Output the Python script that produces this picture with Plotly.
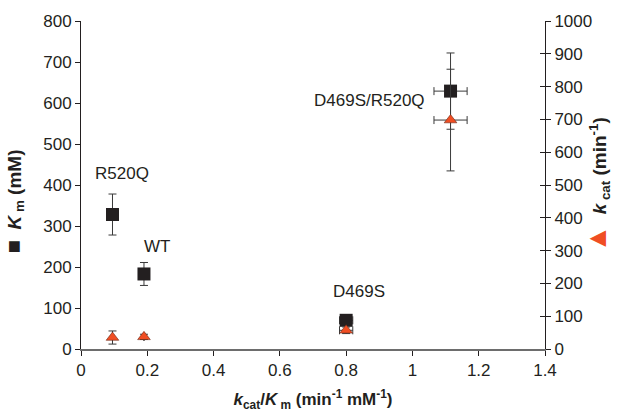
import plotly.graph_objects as go

variants = ["R520Q", "WT", "D469S", "D469S/R520Q"]
kcat_km = [0.095, 0.19, 0.80, 1.115]
kcat_km_err = [0.0, 0.0, 0.02, 0.05]
km = [328, 183, 70, 629]
km_err = [50, 28, 10, 93]
kcat = [35, 37, 57, 698]
kcat_err = [20, 8, 10, 155]
label_x = [0.125, 0.23, 0.84, 0.87]
label_y = [428, 250, 140, 607]

FONT = "Liberation Sans, Arial, sans-serif"
ERRC = "#3a3a3a"
TXT = "#231f20"

fig = go.Figure()
fig.add_trace(go.Scatter(
    x=kcat_km, y=km, mode="markers", name="Km",
    marker=dict(symbol="square", size=13, color="#231f20"),
    error_y=dict(type="data", array=km_err, color=ERRC, thickness=1, width=4),
    error_x=dict(type="data", array=kcat_km_err, color=ERRC, thickness=1, width=4),
    cliponaxis=False,
))
fig.add_trace(go.Scatter(
    x=kcat_km, y=kcat, mode="markers", name="kcat", yaxis="y2",
    marker=dict(symbol="triangle-up", size=11, color="#f04e23",
                line=dict(color="#6b2a1a", width=0.6)),
    error_y=dict(type="data", array=kcat_err, color=ERRC, thickness=1, width=4),
    error_x=dict(type="data", array=kcat_km_err, color=ERRC, thickness=1, width=4),
    cliponaxis=False,
))

for t, x, y in zip(variants, label_x, label_y):
    fig.add_annotation(x=x, y=y, text=t, showarrow=False,
                       font=dict(family=FONT, size=17, color=TXT))

# axis titles with symbol keys
fig.add_annotation(xref="paper", yref="paper", x=-0.178, y=0.45, textangle=-90,
                   text="<span style='color:#231f20;font-size:22px'>■</span>  <b><i>K</i><sub> m</sub> (mM)</b>",
                   showarrow=False, font=dict(family=FONT, size=19, color=TXT))
fig.add_annotation(xref="paper", yref="paper", x=1.15, y=0.50, textangle=-90,
                   text="<span style='color:#f04e23;font-size:28px'>▲</span>  <b><i>k</i><sub> cat</sub> (min<sup>-1</sup>)</b>",
                   showarrow=False, font=dict(family=FONT, size=19, color=TXT))

fig.update_layout(
    width=617, height=416,
    margin=dict(l=81, r=72, t=21, b=67),
    plot_bgcolor="white", paper_bgcolor="white",
    showlegend=False,
    font=dict(family=FONT, size=17, color=TXT),
    xaxis=dict(range=[0, 1.4], dtick=0.2, showgrid=False, zeroline=False,
               showline=True, linecolor="#6d6d6d", linewidth=1.5,
               ticks="outside", ticklen=5, tickcolor=TXT, automargin=False,
               tickfont=dict(size=17),
               title=dict(text="<b><i>k</i><sub>cat</sub>/<i>K</i><sub> m</sub> (min<sup>-1</sup> mM<sup>-1</sup>)</b>",
                          standoff=14, font=dict(size=17))),
    yaxis=dict(range=[0, 800], dtick=100, showgrid=False, zeroline=False,
               showline=True, linecolor=TXT, linewidth=1, automargin=False,
               ticks="outside", ticklen=5, tickcolor=TXT, tickfont=dict(size=17)),
    yaxis2=dict(range=[0, 1000], dtick=100, overlaying="y", side="right",
                showgrid=False, zeroline=False, automargin=False,
                showline=True, linecolor=TXT, linewidth=1,
                ticks="outside", ticklen=5, tickcolor=TXT, tickfont=dict(size=17)),
    yaxis3=dict(range=[0, 1000], dtick=100, overlaying="y", side="right",
                showgrid=False, zeroline=False, showticklabels=False, automargin=False,
                showline=False, ticks="inside", ticklen=5, tickcolor=TXT),
)
# invisible trace to render the inside ticks of the right axis
fig.add_trace(go.Scatter(x=[None], y=[None], yaxis="y3", showlegend=False, hoverinfo="skip"))

fig.write_html("out.html")
